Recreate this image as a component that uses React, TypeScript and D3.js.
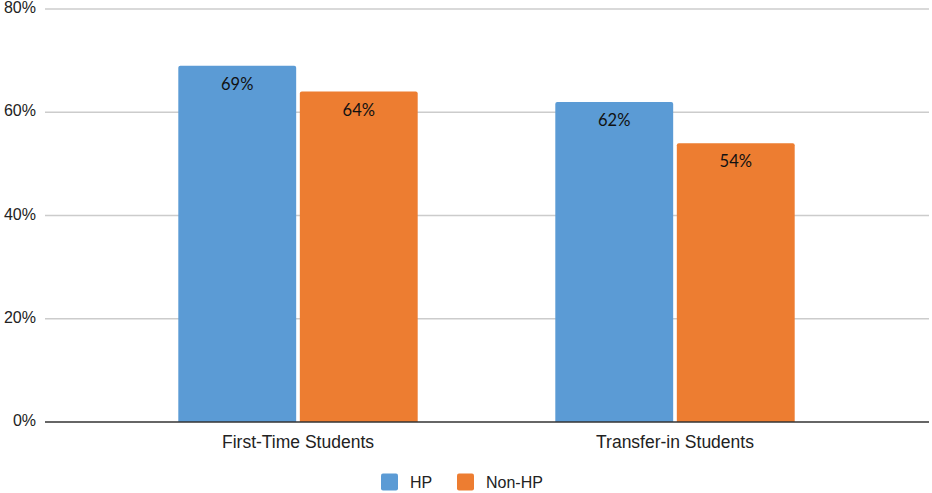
import React from "react";
import * as d3 from "d3";

const categories = ["First-Time Students", "Transfer-in Students"];
const seriesNames = ["HP", "Non-HP"];
const hpValues = [0.69, 0.62];
const nonHpValues = [0.64, 0.54];
const yTicks = [0, 0.2, 0.4, 0.6, 0.8];
const colors = ["#5b9bd5", "#ed7d31"];

const W = 932;
const H = 493;

export default function App() {
  const y = d3.scaleLinear().domain([0, 0.8]).range([422, 9]);
  const x0 = d3
    .scaleBand<string>()
    .domain(categories)
    .range([109.5, 863.5])
    .paddingInner(0.365)
    .paddingOuter(0.1825);
  const x1 = d3
    .scaleBand<string>()
    .domain(seriesNames)
    .range([0, x0.bandwidth()])
    .paddingInner(0.03);
  const series = [hpValues, nonHpValues];
  const fmt = d3.format(".0%");
  const r = 2;

  const barPath = (x: number, yt: number, w: number, yb: number) =>
    `M${x},${yb}V${yt + r}Q${x},${yt} ${x + r},${yt}H${x + w - r}Q${x + w},${yt} ${x + w},${yt + r}V${yb}Z`;

  return (
    <svg width={W} height={H} style={{ position: "absolute", left: 0, top: 0, background: "#fff" }}>
      {yTicks.map((t) => (
        <g key={t}>
          {t > 0 && (
            <line x1={45} x2={929} y1={y(t)} y2={y(t)} stroke="#cccccc" strokeWidth={1.3} />
          )}
          <text
            x={36}
            y={y(t)}
            textAnchor="end"
            dominantBaseline="middle"
            fontFamily="'Liberation Sans', Arial, sans-serif"
            fontSize={16}
            fill="#222"
          >
            {fmt(t)}
          </text>
        </g>
      ))}
      {categories.map((c, ci) => (
        <g key={c} transform={`translate(${x0(c)},0)`}>
          {seriesNames.map((s, si) => {
            const v = series[si][ci];
            const bx = x1(s)!;
            const bw = x1.bandwidth();
            return (
              <g key={s}>
                <path d={barPath(bx, y(v), bw, y(0))} fill={colors[si]} />
                <text
                  x={bx + bw / 2}
                  y={y(v) + 24}
                  textAnchor="middle"
                  fontFamily="Lato, 'Open Sans', sans-serif"
                  fontSize={16.5}
                  fill="#111"
                >
                  {fmt(v)}
                </text>
              </g>
            );
          })}
          <text
            x={x0.bandwidth() / 2}
            y={448}
            textAnchor="middle"
            fontFamily="'Liberation Sans', Arial, sans-serif"
            fontSize={17.5}
            fill="#222"
          >
            {c}
          </text>
        </g>
      ))}
      <line x1={45} x2={929} y1={y(0)} y2={y(0)} stroke="#333" strokeWidth={1.5} />
      {seriesNames.map((s, i) => {
        const lx = [381, 457][i];
        return (
          <g key={s}>
            <rect x={lx} y={473.5} width={17} height={17} rx={2} fill={colors[i]} />
            <text
              x={lx + 29}
              y={488}
              fontFamily="'Liberation Sans', Arial, sans-serif"
              fontSize={16}
              fill="#222"
            >
              {s}
            </text>
          </g>
        );
      })}
    </svg>
  );
}
